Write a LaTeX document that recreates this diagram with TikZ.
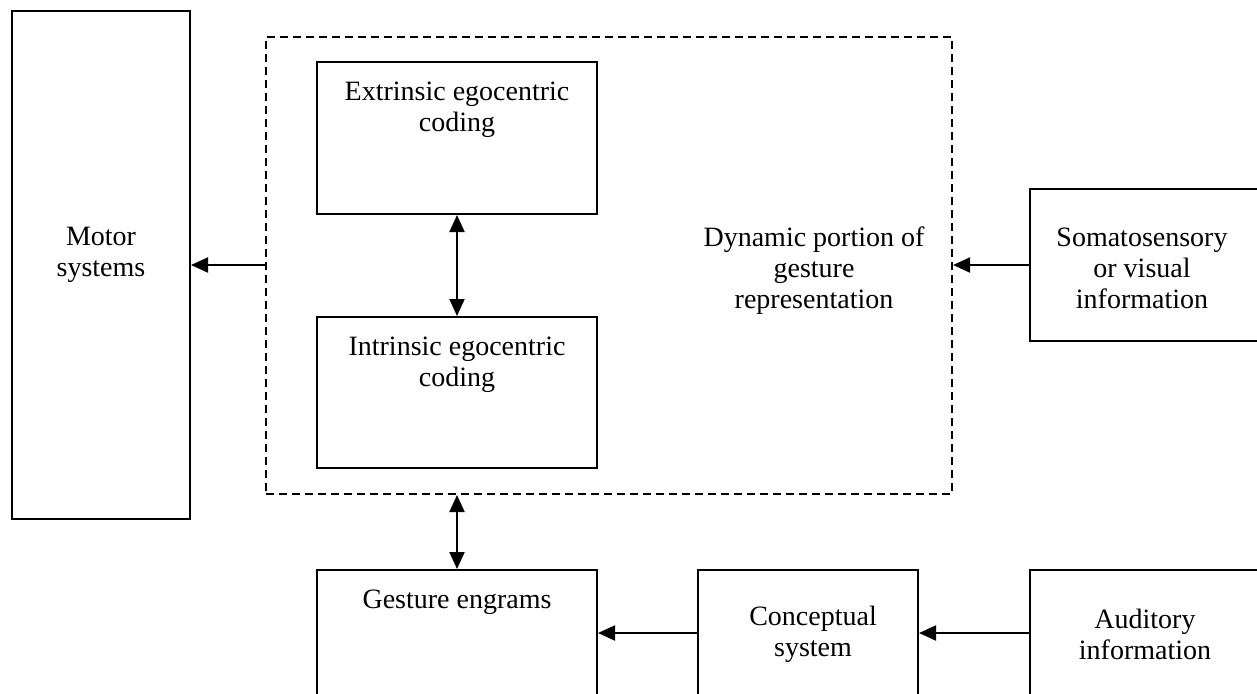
\documentclass[tikz,border=0pt]{standalone}
\usepackage{fontspec}
\setmainfont{Liberation Serif}
\usetikzlibrary{arrows.meta}

\tikzset{
	box/.style={draw, line width=1pt, rectangle, inner sep=0pt},
	dynbox/.style={draw, line width=1pt, dash pattern=on 4pt off 2.5pt, rectangle, inner sep=0pt},
	txt/.style={align=center, inner sep=0pt, font=\fontsize{14}{15.5}\selectfont},
	arr/.style={line width=1pt, -{Triangle[length=8.5pt,width=7.5pt]}},
	darr/.style={line width=1pt, {Triangle[length=8.5pt,width=7.5pt]}-{Triangle[length=8.5pt,width=7.5pt]}}
}

\begin{document}
\begin{tikzpicture}[x=0.5pt,y=-0.5pt]
	\useasboundingbox (0,0) rectangle (1257,693);
	\clip (0,0) rectangle (1257,693);
	% boxes
	\node[box, minimum width=89pt, minimum height=254pt] (motor) at (101,265) {};
	\node[dynbox, minimum width=343pt, minimum height=228.5pt] (dyn) at (609,265.5) {};
	\node[box, minimum width=140pt, minimum height=76pt] (extr) at (457,138) {};
	\node[box, minimum width=140pt, minimum height=75.5pt] (intr) at (457,392.5) {};
	\node[box, minimum width=115pt, minimum height=76pt] (soma) at (1145,265) {};
	\node[box, minimum width=140pt, minimum height=63pt] (engr) at (457,633) {};
	\node[box, minimum width=110pt, minimum height=63pt] (conc) at (808,633) {};
	\node[box, minimum width=115pt, minimum height=63pt] (audi) at (1145,633) {};
	% texts
	\node[txt] (motortxt) at (101,255) {Motor\\systems};
	\node[txt] (extrtxt) at (457,110) {Extrinsic egocentric\\coding};
	\node[txt] (intrtxt) at (457,365) {Intrinsic egocentric\\coding};
	\node[txt] (dyntxt) at (814,271) {Dynamic portion of\\gesture\\representation};
	\node[txt] (somatxt) at (1142,268) {Somatosensory\\or visual\\information};
	\node[txt] (engrtxt) at (457,602) {Gesture engrams};
	\node[txt] (conctxt) at (813,634) {Conceptual\\system};
	\node[txt] (auditxt) at (1145,634) {Auditory\\information};
	% connectors
	\draw[arr] (dyn.west |- motor.east) -- (motor.east);
	\draw[arr] (soma.west) -- (dyn.east |- soma.west);
	\draw[darr] (extr.south) -- (intr.north);
	\draw[darr] (engr.north |- dyn.south) -- (engr.north);
	\draw[arr] (conc.west) -- (engr.east);
	\draw[arr] (audi.west) -- (conc.east);
\end{tikzpicture}
\end{document}
